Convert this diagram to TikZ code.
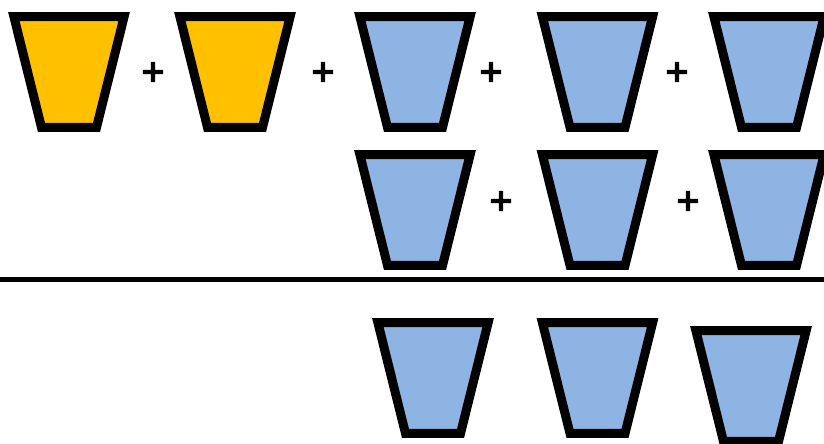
\documentclass[tikz,border=0pt]{standalone}
\usepackage{fontspec}
\setmainfont{DejaVu Sans}
\newfontfamily\plusfont[FakeBold=1.5]{DejaVu Sans Bold}
\usetikzlibrary{shapes.geometric}
\definecolor{cupgold}{HTML}{FFC000}
\definecolor{cupblue}{HTML}{8EB4E3}

\begin{document}
\begin{tikzpicture}[
    x=0.02cm, y=-0.02cm,
    cup/.style={trapezium, shape border rotate=180, trapezium angle=76,
                inner xsep=0.55cm, inner ysep=1.11cm, outer sep=0pt,
                draw=black, line width=0.18cm},
    goldcup/.style={cup, fill=cupgold},
    bluecup/.style={cup, fill=cupblue},
    plus/.style={font=\fontsize{18}{18}\plusfont, inner sep=0pt},
    rule/.style={line width=0.11cm}
]
\useasboundingbox (0,0) rectangle (824,443);

% Top row
\node[goldcup] (cupa) at (69,72) {};
\node[goldcup] (cupb) at (235,72) {};
\node[bluecup] (cupc) at (415,72) {};
\node[bluecup] (cupd) at (597.5,72) {};
\node[bluecup] (cupe) at (769,72) {};

% Middle row
\node[bluecup] (cupf) at (415,210) {};
\node[bluecup] (cupg) at (597.5,210) {};
\node[bluecup] (cuph) at (769,210) {};

% Result row
\node[bluecup] (cupi) at (433,378) {};
\node[bluecup] (cupj) at (597.5,378) {};
\node[bluecup] (cupk) at (751,386) {};

% Plus signs
\node[plus] (plusa) at (153,72) {+};
\node[plus] (plusb) at (323,72) {+};
\node[plus] (plusc) at (491,72) {+};
\node[plus] (plusd) at (677,72) {+};
\node[plus] (pluse) at (501,201) {+};
\node[plus] (plusf) at (688,201) {+};

% Sum line
\coordinate (ruleleft) at (0,279.5);
\coordinate (ruleright) at (824,279.5);
\draw[rule] (ruleleft) -- (ruleright);

\end{tikzpicture}
\end{document}
